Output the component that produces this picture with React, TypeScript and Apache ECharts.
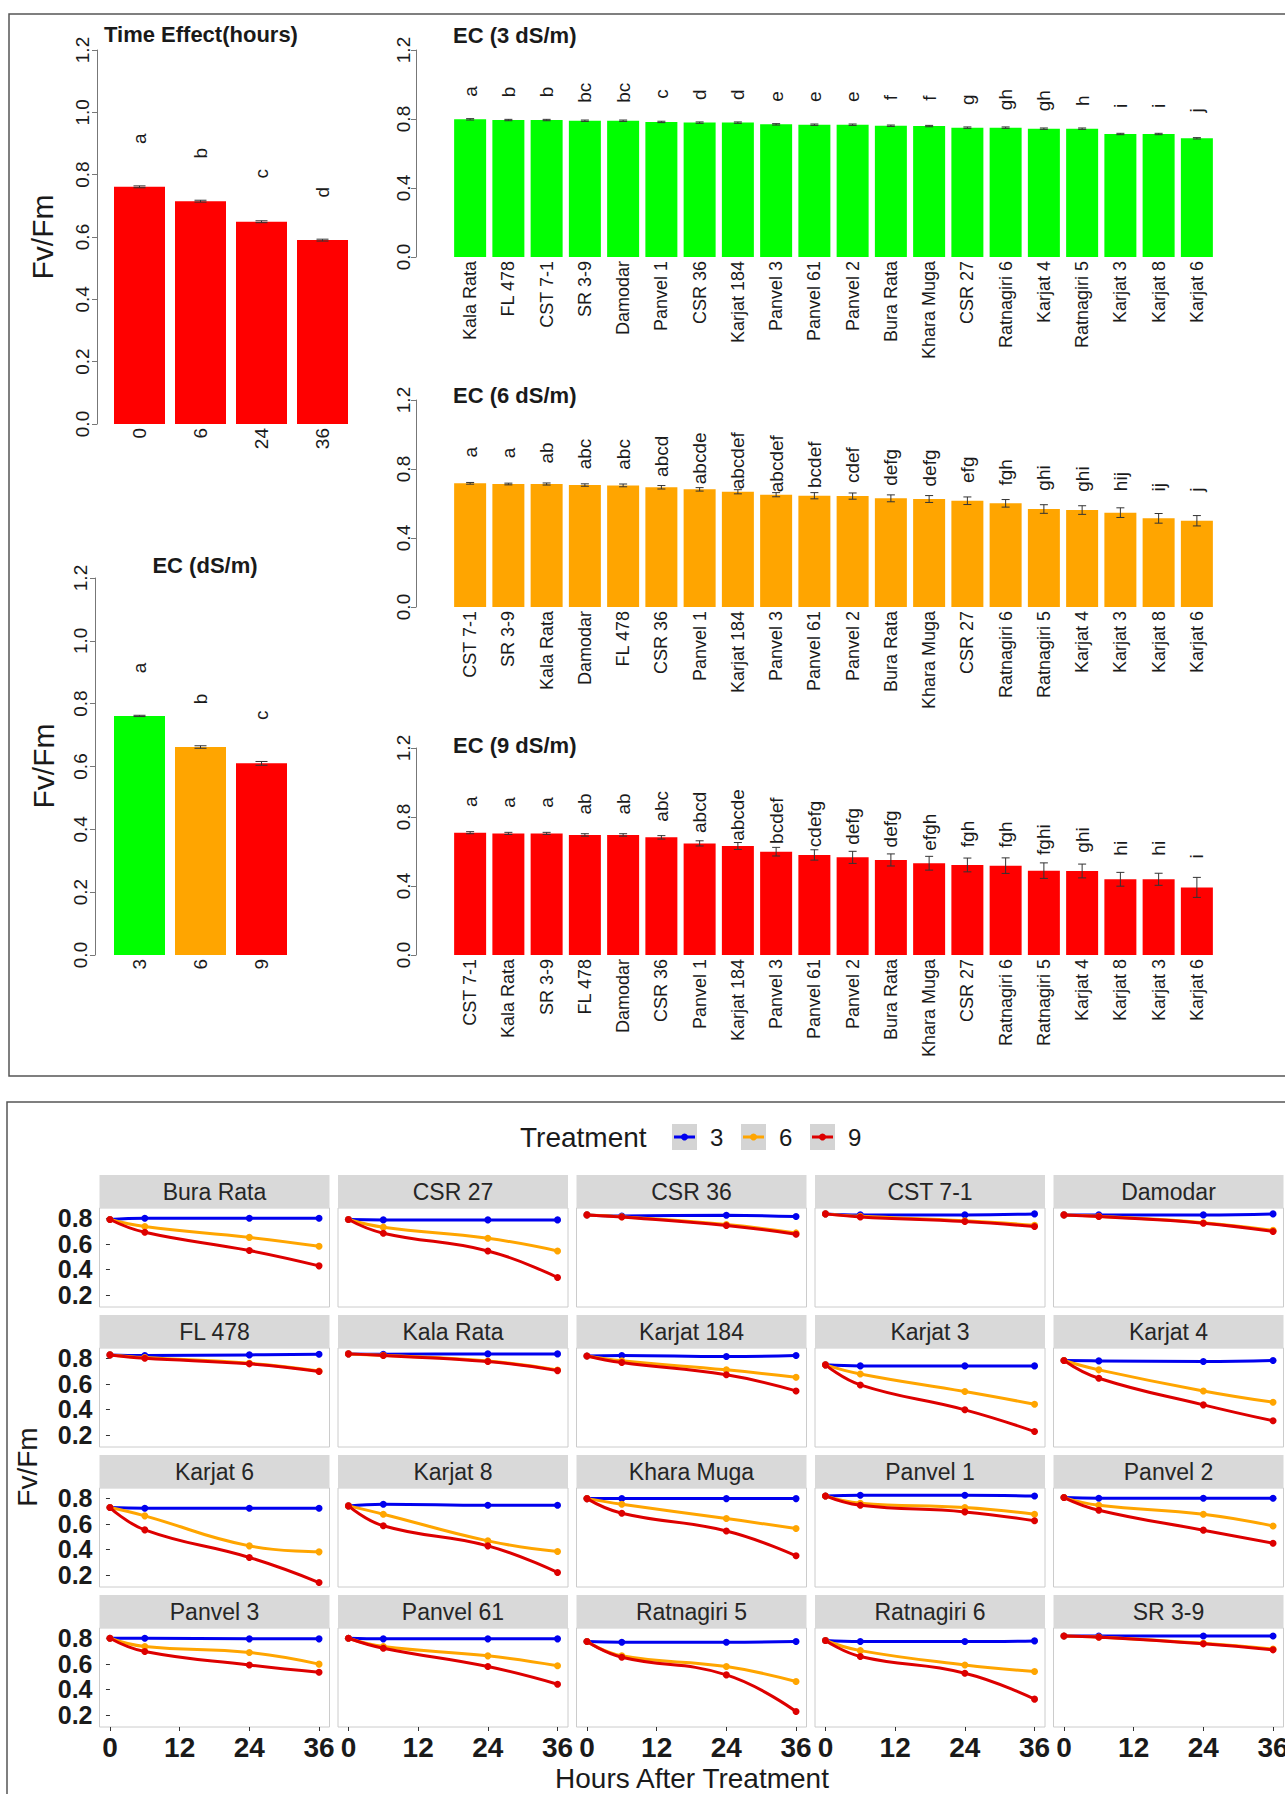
import React, { useEffect, useRef } from 'react';
import * as echarts from 'echarts';

const FONT = '"Liberation Sans", Arial, Helvetica, sans-serif';

// ---------- Top-left panels ----------
const timeCats = ['0', '6', '24', '36'];
const timeVals = [0.761, 0.715, 0.649, 0.59];
const timeErr = [0.003, 0.003, 0.003, 0.003];
const timeLetters = ['a', 'b', 'c', 'd'];

const ecCats = ['3', '6', '9'];
const ecVals = [0.761, 0.662, 0.61];
const ecErr = [0.002, 0.004, 0.006];
const ecLetters = ['a', 'b', 'c'];
const ecColors = ['#00FF00', '#FFA500', '#FF0000'];

// ---------- EC 3 ----------
const ec3Cats = ['Kala Rata', 'FL 478', 'CST 7-1', 'SR 3-9', 'Damodar', 'Panvel 1', 'CSR 36', 'Karjat 184', 'Panvel 3', 'Panvel 61', 'Panvel 2', 'Bura Rata', 'Khara Muga', 'CSR 27', 'Ratnagiri 6', 'Karjat 4', 'Ratnagiri 5', 'Karjat 3', 'Karjat 8', 'Karjat 6'];
const ec3Vals = [0.798, 0.794, 0.794, 0.79, 0.79, 0.783, 0.779, 0.779, 0.769, 0.767, 0.767, 0.761, 0.759, 0.75, 0.75, 0.744, 0.744, 0.713, 0.713, 0.688];
const ec3Err = [0.004, 0.004, 0.004, 0.004, 0.004, 0.004, 0.004, 0.004, 0.004, 0.004, 0.004, 0.004, 0.004, 0.004, 0.004, 0.004, 0.004, 0.004, 0.004, 0.004];
const ec3Letters = ['a', 'b', 'b', 'bc', 'bc', 'c', 'd', 'd', 'e', 'e', 'e', 'f', 'f', 'g', 'gh', 'gh', 'h', 'i', 'i', 'j'];

// ---------- EC 6 ----------
const ec6Cats = ['CST 7-1', 'SR 3-9', 'Kala Rata', 'Damodar', 'FL 478', 'CSR 36', 'Panvel 1', 'Karjat 184', 'Panvel 3', 'Panvel 61', 'Panvel 2', 'Bura Rata', 'Khara Muga', 'CSR 27', 'Ratnagiri 6', 'Ratnagiri 5', 'Karjat 4', 'Karjat 3', 'Karjat 8', 'Karjat 6'];
const ec6Vals = [0.717, 0.713, 0.713, 0.707, 0.705, 0.694, 0.682, 0.668, 0.651, 0.645, 0.643, 0.63, 0.626, 0.616, 0.601, 0.568, 0.562, 0.547, 0.514, 0.5];
const ec6Err = [0.005, 0.005, 0.006, 0.007, 0.008, 0.01, 0.01, 0.012, 0.012, 0.018, 0.018, 0.02, 0.02, 0.022, 0.022, 0.025, 0.025, 0.028, 0.028, 0.03];
const ec6Letters = ['a', 'a', 'ab', 'abc', 'abc', 'abcd', 'abcde', 'abcdef', 'abcdef', 'bcdef', 'cdef', 'defg', 'defg', 'efg', 'fgh', 'ghi', 'ghi', 'hij', 'ij', 'j'];

// ---------- EC 9 ----------
const ec9Cats = ['CST 7-1', 'Kala Rata', 'SR 3-9', 'FL 478', 'Damodar', 'CSR 36', 'Panvel 1', 'Karjat 184', 'Panvel 3', 'Panvel 61', 'Panvel 2', 'Bura Rata', 'Khara Muga', 'CSR 27', 'Ratnagiri 6', 'Ratnagiri 5', 'Karjat 4', 'Karjat 8', 'Karjat 3', 'Karjat 6'];
const ec9Vals = [0.709, 0.705, 0.705, 0.696, 0.696, 0.682, 0.647, 0.632, 0.599, 0.58, 0.566, 0.551, 0.532, 0.522, 0.518, 0.489, 0.487, 0.439, 0.439, 0.392];
const ec9Err = [0.006, 0.006, 0.006, 0.007, 0.007, 0.01, 0.015, 0.02, 0.025, 0.03, 0.035, 0.035, 0.04, 0.04, 0.045, 0.045, 0.04, 0.04, 0.035, 0.058];
const ec9Letters = ['a', 'a', 'a', 'ab', 'ab', 'abc', 'abcd', 'abcde', 'bcdef', 'cdefg', 'defg', 'defg', 'efgh', 'fgh', 'fgh', 'fghi', 'ghi', 'hi', 'hi', 'i'];

// ---------- Facet line panels ----------
const varieties = ['Bura Rata', 'CSR 27', 'CSR 36', 'CST 7-1', 'Damodar', 'FL 478', 'Kala Rata', 'Karjat 184', 'Karjat 3', 'Karjat 4', 'Karjat 6', 'Karjat 8', 'Khara Muga', 'Panvel 1', 'Panvel 2', 'Panvel 3', 'Panvel 61', 'Ratnagiri 5', 'Ratnagiri 6', 'SR 3-9'];
const hours = [0, 6, 24, 36];
const treatments = ['3', '6', '9'];
const treatColors = ['#0000EE', '#FFA500', '#DD0000'];
const t3Vals = [
  [0.79, 0.8, 0.8, 0.8],
  [0.79, 0.787, 0.787, 0.787],
  [0.826, 0.818, 0.823, 0.813],
  [0.834, 0.826, 0.826, 0.834],
  [0.826, 0.826, 0.826, 0.834],
  [0.826, 0.821, 0.826, 0.831],
  [0.834, 0.831, 0.834, 0.834],
  [0.818, 0.821, 0.813, 0.821],
  [0.748, 0.74, 0.74, 0.74],
  [0.782, 0.779, 0.774, 0.782],
  [0.727, 0.722, 0.722, 0.722],
  [0.74, 0.753, 0.745, 0.745],
  [0.797, 0.797, 0.797, 0.797],
  [0.818, 0.823, 0.823, 0.818],
  [0.805, 0.8, 0.8, 0.8],
  [0.8, 0.8, 0.795, 0.795],
  [0.8, 0.795, 0.795, 0.795],
  [0.774, 0.769, 0.769, 0.774],
  [0.782, 0.774, 0.774, 0.779],
  [0.818, 0.818, 0.818, 0.818],
];
const t6Vals = [
  [0.79, 0.735, 0.65, 0.58],
  [0.79, 0.73, 0.643, 0.544],
  [0.826, 0.812, 0.75, 0.685],
  [0.834, 0.815, 0.78, 0.745],
  [0.826, 0.815, 0.765, 0.705],
  [0.826, 0.805, 0.76, 0.7],
  [0.834, 0.823, 0.778, 0.708],
  [0.818, 0.78, 0.709, 0.651],
  [0.748, 0.677, 0.539, 0.44],
  [0.782, 0.709, 0.544, 0.456],
  [0.727, 0.662, 0.427, 0.38],
  [0.74, 0.675, 0.466, 0.383],
  [0.797, 0.753, 0.641, 0.563],
  [0.818, 0.761, 0.727, 0.675],
  [0.805, 0.745, 0.675, 0.583],
  [0.8, 0.735, 0.688, 0.597],
  [0.8, 0.735, 0.662, 0.584],
  [0.774, 0.662, 0.578, 0.461],
  [0.782, 0.703, 0.591, 0.539],
  [0.818, 0.81, 0.76, 0.715],
];
const t9Vals = [
  [0.79, 0.69, 0.547, 0.427],
  [0.79, 0.683, 0.544, 0.336],
  [0.826, 0.81, 0.743, 0.675],
  [0.834, 0.81, 0.774, 0.735],
  [0.826, 0.813, 0.761, 0.696],
  [0.826, 0.8, 0.756, 0.696],
  [0.834, 0.821, 0.774, 0.703],
  [0.818, 0.766, 0.67, 0.544],
  [0.748, 0.591, 0.396, 0.226],
  [0.782, 0.643, 0.435, 0.31],
  [0.727, 0.552, 0.336, 0.14],
  [0.74, 0.584, 0.427, 0.218],
  [0.797, 0.683, 0.544, 0.349],
  [0.818, 0.745, 0.693, 0.623],
  [0.805, 0.706, 0.55, 0.448],
  [0.8, 0.696, 0.591, 0.534],
  [0.8, 0.722, 0.578, 0.44],
  [0.774, 0.651, 0.513, 0.226],
  [0.782, 0.657, 0.526, 0.323],
  [0.818, 0.808, 0.756, 0.709],
];
const facetYTicks = [0.2, 0.4, 0.6, 0.8];
const facetXTicks = [0, 12, 24, 36];

function errRender(half: number) {
  return (params: any, api: any) => {
    const x = api.value(0);
    const lo = api.value(1);
    const hi = api.value(2);
    const a = api.coord([x, lo]);
    const b = api.coord([x, hi]);
    const st = { stroke: '#333', lineWidth: 1 };
    return {
      type: 'group',
      children: [
        { type: 'line', shape: { x1: a[0], y1: a[1], x2: b[0], y2: b[1] }, style: st },
        { type: 'line', shape: { x1: a[0] - half, y1: a[1], x2: a[0] + half, y2: a[1] }, style: st },
        { type: 'line', shape: { x1: b[0] - half, y1: b[1], x2: b[0] + half, y2: b[1] }, style: st },
      ],
    };
  };
}

function txt(x: number, y: number, text: string, font: string, align = 'left', rotation = 0, fill = '#1a1a1a') {
  return {
    type: 'text',
    x,
    y,
    rotation,
    z: 50,
    style: {
      text,
      font,
      fill,
      align,
      verticalAlign: 'middle',
      textAlign: align,
      textVerticalAlign: 'middle',
    },
  };
}

function buildOption() {
  const grids: any[] = [];
  const xAxes: any[] = [];
  const yAxes: any[] = [];
  const series: any[] = [];
  const graphics: any[] = [];

  const barPanel = (cfg: any) => {
    const gi = grids.length;
    grids.push({ left: cfg.left, top: cfg.top, width: cfg.width, height: cfg.height, containLabel: false, outerBoundsMode: 'none' });
    xAxes.push({
      gridIndex: gi,
      type: 'category',
      data: cfg.cats,
      axisLine: { show: false },
      axisTick: { show: false },
      splitLine: { show: false },
      axisLabel: { interval: 0, rotate: 90, fontSize: cfg.xFont, color: '#1a1a1a', margin: 4, fontFamily: FONT },
    });
    yAxes.push({
      gridIndex: gi,
      type: 'value',
      min: 0,
      max: 1.2,
      interval: cfg.yInterval,
      offset: cfg.axisOffset,
      axisLine: { show: true, lineStyle: { color: '#777', width: 1 } },
      axisTick: { show: true, length: 5, lineStyle: { color: '#777' } },
      splitLine: { show: false },
      axisLabel: { rotate: 90, fontSize: 19, color: '#1a1a1a', margin: cfg.yMargin, fontFamily: FONT, formatter: (v: number) => v.toFixed(1) },
    });
    series.push({
      type: 'bar',
      xAxisIndex: gi,
      yAxisIndex: gi,
      barWidth: cfg.barWidth,
      data: cfg.vals.map((v: number, i: number) => ({ value: v, itemStyle: { color: cfg.colors[i % cfg.colors.length] } })),
      label: {
        show: true,
        position: 'top',
        distance: cfg.letterDist,
        rotate: 90,
        align: 'center',
        verticalAlign: 'middle',
        fontSize: cfg.letterFont,
        color: '#1a1a1a',
        fontFamily: FONT,
        formatter: (p: any) => cfg.letters[p.dataIndex],
      },
    });
    series.push({
      type: 'custom',
      xAxisIndex: gi,
      yAxisIndex: gi,
      z: 5,
      data: cfg.vals.map((v: number, i: number) => [i, v - cfg.errs[i], v + cfg.errs[i]]),
      encode: { x: 0, y: [1, 2] },
      renderItem: errRender(cfg.capHalf),
    });
  };

  barPanel({ left: 109, top: 50, width: 244, height: 374, cats: timeCats, vals: timeVals, errs: timeErr, letters: timeLetters, colors: ['#FF0000'], yInterval: 0.2, axisOffset: 12, yMargin: 5, barWidth: 51, letterDist: 48, letterFont: 19, xFont: 19, capHalf: 6 });
  barPanel({ left: 109, top: 578, width: 183, height: 377, cats: ecCats, vals: ecVals, errs: ecErr, letters: ecLetters, colors: ecColors, yInterval: 0.2, axisOffset: 14, yMargin: 5, barWidth: 51, letterDist: 48, letterFont: 19, xFont: 19, capHalf: 6 });
  barPanel({ left: 451, top: 50, width: 765, height: 207, cats: ec3Cats, vals: ec3Vals, errs: ec3Err, letters: ec3Letters, colors: ['#00FF00'], yInterval: 0.4, axisOffset: 35, yMargin: 3, barWidth: 32, letterDist: 28, letterFont: 19, xFont: 18, capHalf: 4 });
  barPanel({ left: 451, top: 400, width: 765, height: 207, cats: ec6Cats, vals: ec6Vals, errs: ec6Err, letters: ec6Letters, colors: ['#FFA500'], yInterval: 0.4, axisOffset: 35, yMargin: 3, barWidth: 32, letterDist: 31, letterFont: 19, xFont: 18, capHalf: 4 });
  barPanel({ left: 451, top: 748, width: 765, height: 207, cats: ec9Cats, vals: ec9Vals, errs: ec9Err, letters: ec9Letters, colors: ['#FF0000'], yInterval: 0.4, axisOffset: 35, yMargin: 3, barWidth: 32, letterDist: 31, letterFont: 19, xFont: 18, capHalf: 4 });

  // Top titles and axis titles
  graphics.push(txt(104, 34, 'Time Effect(hours)', `bold 22px ${FONT}`));
  graphics.push(txt(453, 35, 'EC (3 dS/m)', `bold 22px ${FONT}`));
  graphics.push(txt(453, 395, 'EC (6 dS/m)', `bold 22px ${FONT}`));
  graphics.push(txt(453, 745, 'EC (9 dS/m)', `bold 22px ${FONT}`));
  graphics.push(txt(205, 565, 'EC (dS/m)', `bold 22px ${FONT}`, 'center'));
  graphics.push(txt(42, 237, 'Fv/Fm', `30px ${FONT}`, 'center', Math.PI / 2));
  graphics.push(txt(43, 766, 'Fv/Fm', `30px ${FONT}`, 'center', Math.PI / 2));

  // Frames
  graphics.push({ type: 'rect', z: 0, shape: { x: 9, y: 14, width: 1300, height: 1062 }, style: { fill: 'none', stroke: '#555', lineWidth: 1.5 } });
  graphics.push({ type: 'rect', z: 0, shape: { x: 7, y: 1102, width: 1300, height: 720 }, style: { fill: 'none', stroke: '#555', lineWidth: 1.5 } });

  // Facets
  const tVals = [t3Vals, t6Vals, t9Vals];
  varieties.forEach((name, idx) => {
    const r = Math.floor(idx / 5);
    const c = idx % 5;
    const left = 99.5 + 238.5 * c;
    const top = 1208 + 140 * r;
    const gi = grids.length;
    grids.push({ left, top, width: 230, height: 99, show: true, backgroundColor: '#FFFFFF', borderColor: '#CCCCCC', borderWidth: 1, containLabel: false, outerBoundsMode: 'none' });
    xAxes.push({
      gridIndex: gi,
      type: 'value',
      min: -1.8,
      max: 37.8,
      axisLine: { show: false },
      splitLine: { show: false },
      axisTick: { show: r === 3, customValues: facetXTicks, length: 4, lineStyle: { color: '#333' } },
      axisLabel: { show: r === 3, customValues: facetXTicks, hideOverlap: false, fontSize: 28, fontWeight: 'bold', color: '#1a1a1a', margin: 6, fontFamily: FONT },
    });
    yAxes.push({
      gridIndex: gi,
      type: 'value',
      min: 0.105,
      max: 0.88,
      axisLine: { show: false },
      splitLine: { show: false },
      axisTick: { show: c === 0, customValues: facetYTicks, length: 4, lineStyle: { color: '#333' } },
      axisLabel: { show: c === 0, customValues: facetYTicks, hideOverlap: false, fontSize: 25, fontWeight: 'bold', color: '#1a1a1a', margin: 7, fontFamily: FONT, formatter: (v: number) => v.toFixed(1) },
    });
    treatments.forEach((t, ti) => {
      series.push({
        type: 'line',
        name: t,
        xAxisIndex: gi,
        yAxisIndex: gi,
        data: hours.map((h, k) => [h, tVals[ti][idx][k]]),
        smooth: 0.45,
        symbol: 'circle',
        symbolSize: 7,
        lineStyle: { width: 3, color: treatColors[ti] },
        itemStyle: { color: treatColors[ti] },
        z: 3 + ti,
      });
    });
    graphics.push({ type: 'rect', z: 1, shape: { x: left, y: top - 33, width: 230, height: 33 }, style: { fill: '#D9D9D9' } });
    graphics.push(txt(left + 115, top - 16, name, `23px ${FONT}`, 'center', 0, '#262626'));
  });

  // Facet legend
  graphics.push(txt(520, 1137, 'Treatment', `28px ${FONT}`));
  const keyX = [672, 741, 810];
  treatments.forEach((t, ti) => {
    const kx = keyX[ti];
    graphics.push({ type: 'rect', z: 1, shape: { x: kx, y: 1124, width: 25, height: 26 }, style: { fill: '#D4D4D4' } });
    graphics.push({ type: 'line', z: 2, shape: { x1: kx + 2, y1: 1137, x2: kx + 23, y2: 1137 }, style: { stroke: treatColors[ti], lineWidth: 3 } });
    graphics.push({ type: 'circle', z: 3, shape: { cx: kx + 12.5, cy: 1137, r: 3.5 }, style: { fill: treatColors[ti] } });
    graphics.push(txt(kx + 38, 1137, t, `24px ${FONT}`));
  });

  // Facet axis titles
  graphics.push(txt(27, 1467, 'Fv/Fm', `28px ${FONT}`, 'center', Math.PI / 2));
  graphics.push(txt(692, 1778, 'Hours After Treatment', `28px ${FONT}`, 'center'));

  return {
    animation: false,
    backgroundColor: '#FFFFFF',
    textStyle: { fontFamily: FONT },
    grid: grids,
    xAxis: xAxes,
    yAxis: yAxes,
    series,
    graphic: { elements: graphics },
  };
}

export default function App() {
  const ref = useRef<HTMLDivElement>(null);
  useEffect(() => {
    if (!ref.current) return;
    const chart = echarts.init(ref.current, undefined, { renderer: 'svg' });
    chart.setOption(buildOption() as any);
    return () => chart.dispose();
  }, []);
  return (
    <div
      ref={ref}
      style={{ position: 'absolute', left: 0, top: 0, width: 1285, height: 1794, background: '#fff' }}
    />
  );
}
